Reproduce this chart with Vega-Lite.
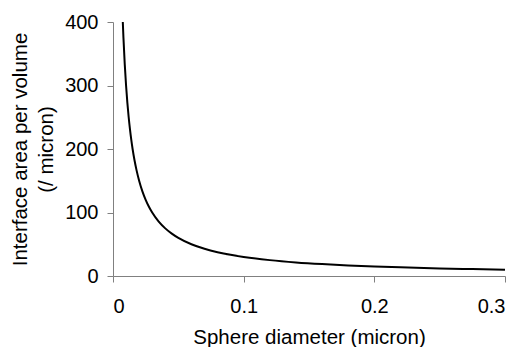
{
  "$schema": "https://vega.github.io/schema/vega-lite/v6.json",
  "width": 392,
  "height": 254,
  "autosize": {"type": "none"},
  "padding": {"left": 113, "top": 22, "right": 15, "bottom": 71},
  "background": "white",
  "config": {
    "view": {"stroke": null},
    "font": "Liberation Sans",
    "axis": {
      "grid": false,
      "domainColor": "#808080",
      "tickColor": "#808080",
      "tickSize": 6,
      "labelFont": "Liberation Sans",
      "titleFont": "Liberation Sans",
      "labelFontSize": 20,
      "titleFontSize": 20.5,
      "titleFontWeight": "normal",
      "labelColor": "black",
      "titleColor": "black"
    }
  },
  "data": {
    "values": [
      {"d": 0.0075, "a": 400},
      {"d": 0.008, "a": 375},
      {"d": 0.009, "a": 333.3},
      {"d": 0.01, "a": 300},
      {"d": 0.011, "a": 272.7},
      {"d": 0.012, "a": 250},
      {"d": 0.013, "a": 230.8},
      {"d": 0.014, "a": 214.3},
      {"d": 0.015, "a": 200},
      {"d": 0.0165, "a": 181.8},
      {"d": 0.018, "a": 166.7},
      {"d": 0.02, "a": 150},
      {"d": 0.0225, "a": 133.3},
      {"d": 0.025, "a": 120},
      {"d": 0.0275, "a": 109.1},
      {"d": 0.03, "a": 100},
      {"d": 0.035, "a": 85.7},
      {"d": 0.04, "a": 75},
      {"d": 0.045, "a": 66.7},
      {"d": 0.05, "a": 60},
      {"d": 0.06, "a": 50},
      {"d": 0.07, "a": 42.9},
      {"d": 0.08, "a": 37.5},
      {"d": 0.09, "a": 33.3},
      {"d": 0.1, "a": 30},
      {"d": 0.12, "a": 25},
      {"d": 0.14, "a": 21.4},
      {"d": 0.16, "a": 18.75},
      {"d": 0.18, "a": 16.7},
      {"d": 0.2, "a": 15},
      {"d": 0.22, "a": 13.6},
      {"d": 0.25, "a": 12},
      {"d": 0.275, "a": 10.9},
      {"d": 0.3, "a": 10}
    ]
  },
  "mark": {"type": "line", "color": "black", "strokeWidth": 2, "interpolate": "monotone"},
  "encoding": {
    "x": {
      "field": "d",
      "type": "quantitative",
      "scale": {"domain": [0, 0.3], "nice": false},
      "axis": {"values": [0, 0.1, 0.2, 0.3], "format": "~g", "title": "Sphere diameter (micron)", "labelPadding": 14, "titlePadding": 11}
    },
    "y": {
      "field": "a",
      "type": "quantitative",
      "scale": {"domain": [0, 400], "nice": false},
      "axis": {"values": [0, 100, 200, 300, 400], "title": ["Interface area per volume", "(/ micron)"], "labelPadding": 9, "titlePadding": 8, "titleLineHeight": 26}
    }
  }
}
